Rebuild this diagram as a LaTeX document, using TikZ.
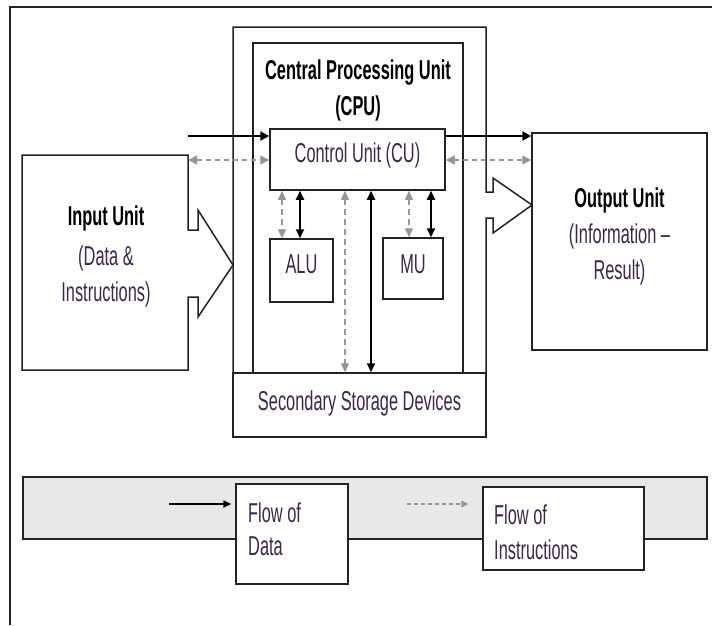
\documentclass[tikz,border=0pt]{standalone}
\usepackage{fontspec}
\setmainfont[FakeStretch=0.6]{Liberation Sans}
\usetikzlibrary{arrows.meta}
\definecolor{txtp}{RGB}{62,38,78}
\definecolor{linec}{RGB}{35,35,35}
\definecolor{grayarr}{RGB}{150,150,150}
\definecolor{bandc}{RGB}{232,232,232}
\begin{document}
\begin{tikzpicture}[x=1pt,y=-1pt,
  outline/.style={draw=linec,line width=1.5pt},
  rbox/.style={outline,inner sep=0pt,fill=white},
  lbl/.style={align=center,font=\fontsize{27.3}{36}\selectfont,text=txtp,inner sep=0pt},
  blbl/.style={lbl,text=black,font=\fontsize{27.3}{36}\selectfont\bfseries},
  dataarr/.style={draw=black,line width=2.4pt,-{Triangle[length=9pt,width=9pt]}},
  datavert/.style={draw=black,line width=1.8pt,{Triangle[length=9pt,width=8pt]}-{Triangle[length=9pt,width=8pt]}},
  instarr/.style={draw=grayarr,line width=1.5pt,dash pattern=on 5pt off 4pt,{Triangle[length=9pt,width=9pt]}-{Triangle[length=9pt,width=9pt]}},
  instvert/.style={draw=grayarr,line width=1.3pt,dash pattern=on 6pt off 4pt,{Triangle[length=9pt,width=8pt]}-{Triangle[length=9pt,width=8pt]}}
]
\useasboundingbox (0,0) rectangle (712,625);
% outer frame
\draw[draw=linec,line width=1.5pt] (10,625) -- (10,7) -- (712,7);

% input unit with hollow arrow
\draw[outline] (188,230) -- (198,230) -- (198,210) -- (233,265) -- (198,317) -- (198,297) -- (188,297)
  -- (188,370) -- (22,370) -- (22,155) -- (188,155) -- cycle;
\node[inner sep=0pt,minimum width=166pt,minimum height=215pt] (inp) at (105,262.5) {};
\node[blbl] (inptitle) at (106,218) {Input Unit};
\node[lbl] (inptext) at (106,276) {(Data \&\\Instructions)};

% CPU outer box with hollow output arrow
\draw[outline] (486,192) -- (493,192) -- (493,178) -- (532,205) -- (493,233) -- (493,218) -- (486,218)
  -- (486,437) -- (233,437) -- (233,27) -- (486,27) -- cycle;
\node[rbox,minimum width=210pt,minimum height=330pt] (cpui) at (358,208) {};
\node[rbox,minimum width=253pt,minimum height=64pt] (ssd) at (359.5,405) {};
\node[lbl] (ssdtext) at (359.5,403) {Secondary Storage Devices};
\node[blbl] (cputitle) at (358,90) {Central Processing Unit\\(CPU)};

% control unit, ALU, MU
\node[rbox,minimum width=175pt,minimum height=61pt] (cu) at (357.5,159.5) {};
\node[lbl] (cutext) at (357.5,155) {Control Unit (CU)};
\node[rbox,minimum width=63pt,minimum height=63pt] (alu) at (301.5,270.5) {};
\node[lbl] (alutext) at (301.5,264) {ALU};
\node[rbox,minimum width=60pt,minimum height=61pt] (mu) at (413,268.5) {};
\node[lbl] (mutext) at (413,264) {MU};

% output unit
\node[rbox,minimum width=175pt,minimum height=217pt] (out) at (619.5,241.5) {};
\node[blbl] (outtitle) at (619.5,200) {Output Unit};
\node[lbl] (outtext) at (619.5,254) {(Information –\\Result)};

% horizontal flows
\coordinate (din) at (188,136);
\coordinate (gy) at (0,160);
\draw[dataarr] (din) -- (din -| cu.west);
\draw[dataarr] (cu.east |- din) -- (out.west |- din);
\draw[instarr] (inp.east |- gy) -- (cu.west |- gy);
\draw[instarr] (cu.east |- gy) -- (out.west |- gy);

% vertical flows
\coordinate (x1) at (282,0);
\coordinate (x2) at (300,0);
\coordinate (x3) at (345,0);
\coordinate (x4) at (371,0);
\coordinate (x5) at (409,0);
\coordinate (x6) at (431,0);
\draw[instvert] (cu.south -| x1) -- (alu.north -| x1);
\draw[datavert] (cu.south -| x2) -- (alu.north -| x2);
\draw[instvert] (cu.south -| x3) -- (ssd.north -| x3);
\draw[datavert] (cu.south -| x4) -- (ssd.north -| x4);
\draw[instvert] (cu.south -| x5) -- (mu.north -| x5);
\draw[datavert] (cu.south -| x6) -- (mu.north -| x6);

% legend
\draw[outline,fill=bandc] (23,477) rectangle (707,539);
\node[rbox,minimum width=112pt,minimum height=100pt] (ldata) at (292,534) {};
\node[rbox,minimum width=161pt,minimum height=83pt] (linst) at (563.5,528.5) {};
\node[lbl,align=left,anchor=west,font=\fontsize{27.3}{33}\selectfont] (ldatatext) at (248,529) {Flow of\\Data};
\node[lbl,align=left,anchor=west,font=\fontsize{27.3}{35}\selectfont] (linsttext) at (494,532) {Flow of\\Instructions};
\coordinate (ld0) at (169,504);
\coordinate (li0) at (407,504);
\draw[draw=black,line width=1.6pt,-{Triangle[length=8pt,width=7pt]}] (ld0) -- ([xshift=-4pt]ldata.west |- ld0);
\draw[draw=grayarr,line width=1.2pt,dash pattern=on 4pt off 3pt,-{Triangle[length=7pt,width=7pt]}] (li0) -- ([xshift=-14pt]linst.west |- li0);
\end{tikzpicture}
\end{document}
